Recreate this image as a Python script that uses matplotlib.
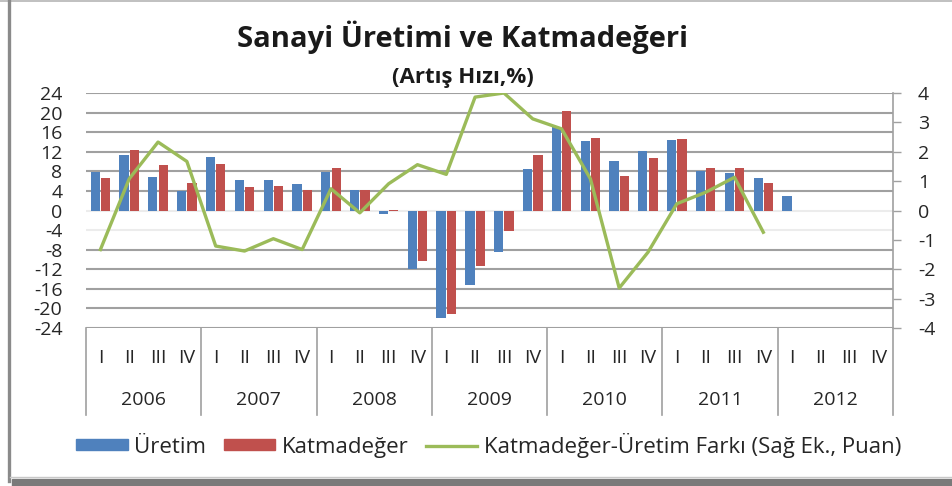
import matplotlib
matplotlib.use("Agg")
import matplotlib.pyplot as plt
import numpy as np
from matplotlib.lines import Line2D
from matplotlib.patches import Patch

plt.rcParams["font.family"] = ["Open Sans", "DejaVu Sans"]
plt.rcParams["axes.unicode_minus"] = False

# Quarterly data 2006Q1 - 2012Q4
years = ["2006", "2007", "2008", "2009", "2010", "2011", "2012"]
quarters = ["I", "II", "III", "IV"]
nan = np.nan
uretim = [7.8, 11.4, 6.9, 3.9, 11.0, 6.3, 6.3, 5.4, 7.8, 4.1, -0.8, -11.9,
          -22.0, -15.2, -8.4, 8.5, 17.0, 14.1, 10.2, 12.2, 14.4, 8.0, 7.7, 6.6,
          2.9, nan, nan, nan]
katmadeger = [6.6, 12.3, 9.3, 5.6, 9.5, 4.8, 5.1, 4.1, 8.6, 4.1, 0.1, -10.4,
              -21.1, -11.4, -4.1, 11.4, 20.3, 14.9, 7.1, 10.8, 14.6, 8.6, 8.6, 5.6,
              nan, nan, nan, nan]
fark = [-1.33, 1.08, 2.33, 1.67, -1.21, -1.38, -0.96, -1.33, 0.74, -0.08, 0.91, 1.56,
        1.23, 3.86, 4.0, 3.12, 2.78, 1.08, -2.64, -1.42, 0.23, 0.62, 1.13, -0.74,
        nan, nan, nan, nan]

BLUE = "#4F81BD"
RED = "#C0504D"
GREEN = "#9BBB59"
GRID = "#a0a0a0"
TXT = "#262626"

W, H = 952, 486
fig = plt.figure(figsize=(W / 100, H / 100), dpi=100)
ax = fig.add_axes([86 / W, 1 - 328 / H, (893 - 86) / W, (328 - 93) / H])

x = np.arange(len(uretim))
bw = 0.32
ax.bar(x - 0.18, uretim, bw, color=BLUE, zorder=3)
ax.bar(x + 0.18, katmadeger, bw, color=RED, zorder=3)

ax.set_xlim(-0.5, len(x) - 0.5)
ax.set_ylim(-24, 24)
left_ticks = np.arange(-24, 25, 4)
ax.set_yticks(left_ticks)
ax.set_xticks([])
for t in left_ticks:
    c = "#ececec" if t in (0, -4) else GRID
    ax.axhline(t, color=c, lw=1.5, zorder=1)
ax.tick_params(axis="y", length=0, pad=17, labelsize=14, labelcolor=TXT)
for s in ["top", "left", "bottom", "right"]:
    ax.spines[s].set_visible(False)

ax2 = ax.twinx()
ax2.plot(x, fark, color=GREEN, lw=2.4, zorder=4)
ax2.set_ylim(-4, 4)
ax2.set_yticks(np.arange(-4, 5, 1))
ax2.tick_params(axis="y", length=6, width=1, color=GRID, pad=12,
                labelsize=14, labelcolor=TXT)
for s in ["top", "left", "bottom"]:
    ax2.spines[s].set_visible(False)
ax2.spines["right"].set_color(GRID)
ax2.spines["right"].set_linewidth(1.2)

# multi-level category axis
trans = ax.get_xaxis_transform()
for i in range(len(years) + 1):
    ax.plot([i * 4 - 0.5] * 2, [0, -0.37], color=GRID, lw=1.2,
            transform=trans, clip_on=False)
for i, yr in enumerate(years):
    for j, q in enumerate(quarters):
        ax.text(i * 4 + j, -0.128, q, transform=trans, ha="center", va="center",
                fontsize=14, color=TXT)
    ax.text(i * 4 + 1.5, -0.306, yr, transform=trans, ha="center", va="center",
            fontsize=14, color=TXT)

fig.text(463 / W, 1 - 37 / H, "Sanayi Üretimi ve Katmadeğeri", ha="center",
         va="center", fontsize=21, fontweight="bold", color="#1a1a1a")
fig.text(463 / W, 1 - 77 / H, "(Artış Hızı,%)", ha="center", va="center",
         fontsize=16, fontweight="bold", color="#1a1a1a")

handles = [Patch(color=BLUE), Patch(color=RED), Line2D([], [], color=GREEN, lw=2.4)]
labels = ["Üretim", "Katmadeğer", "Katmadeğer-Üretim Farkı (Sağ Ek., Puan)"]
fig.legend(handles, labels, loc="center", bbox_to_anchor=(489 / W, 1 - 445 / H),
           ncol=3, frameon=False, fontsize=16, handlelength=2.3, handleheight=0.42,
           handletextpad=0.3, columnspacing=0.8, labelcolor=TXT)

# picture frame
def px_line(xs, ys, **kw):
    fig.add_artist(Line2D([v / W for v in xs], [1 - v / H for v in ys],
                          transform=fig.transFigure, **kw))

px_line([0, W], [1, 1], color="#b5b5b5", lw=1.2)
px_line([8.5, 8.5], [0, 481], color="#8a8a8a", lw=2.4)
px_line([10, W], [477, 477], color="#c8c8c8", lw=1)
fig.add_artist(plt.Rectangle((12 / W, 0), 1, 7 / H, transform=fig.transFigure,
                             color="#7a7a7a"))

fig.savefig("out.png", dpi=100)
